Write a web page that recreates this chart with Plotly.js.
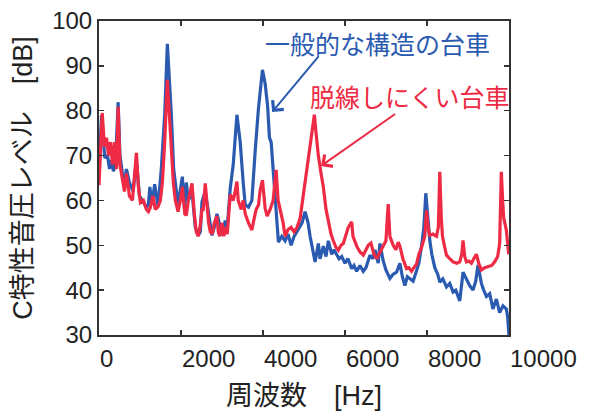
<!DOCTYPE html>
<html>
<head>
<meta charset="utf-8">
<script src="https://cdn.plot.ly/plotly-3.0.1.min.js"></script>
<style>html,body{margin:0;padding:0;background:#fff;}#chart{width:598px;height:411px;}</style>
</head>
<body>
<div id="chart"></div>
<script>
// Frequency [Hz] and C-weighted sound pressure level [dB]
const blueFreq = [0,61,141,207,256,304,353,402,467,511,572,621,669,742,832,913,986,1059,1156,1205,1241,1290,1358,1441,1521,1602,1667,1765,1821,1928,1984,2032,2088,2130,2178,2268,2349,2422,2471,2512,2592,2673,2755,2811,2877,2933,2999,3079,3120,3201,3274,3364,3444,3517,3566,3646,3729,3809,3890,3987,4053,4113,4157,4199,4255,4337,4376,4459,4539,4612,4685,4758,4863,4953,5026,5099,5148,5221,5270,5350,5391,5472,5537,5593,5676,5732,5798,5854,5919,6000,6073,6163,6219,6285,6365,6445,6511,6608,6681,6730,6810,6852,6932,6998,7095,7168,7258,7339,7399,7460,7521,7582,7662,7745,7801,7867,7923,7971,8020,8069,8117,8190,8263,8312,8385,8475,8555,8636,8702,8750,8799,8879,8962,9042,9123,9188,9244,9327,9383,9449,9529,9609,9692,9772,9853,9936,9967,9999];
const blueLevel = [66,79,69.5,70,67,69,66.5,68,81.9,70,66,64,67,64,62,69,61,60,58.5,59,63,59,63.6,58.6,67.2,79,94.9,79,67,59,63,65.3,58,64,60,62,54,52.2,53,59.7,62,57.1,52.2,54,57,55,52.2,55.5,53,62.7,68,79.1,73,64,59,58.5,60,71,80.6,89.1,86,81,74,73,66.4,56.7,50.7,52,51,52.5,50,52,53.7,55,57.5,55,52,48,46.3,50.4,47,49.8,47.5,51,48,49,48,47,47.5,46,47,44.8,45.5,44.2,45.5,44.2,45,47.8,47,49,46,50.4,46.5,44.5,42.6,43.5,44,46,43,41,43,42.5,42,44.3,46,49.8,54,61.6,55,51,48,45,43.5,41.8,42.5,40.7,41.5,39.6,40,38.5,37.6,44,42.5,41,40,42,45.6,41.5,40,38.6,39.2,35.8,38,35,36.5,35.8,34,29.9];

const redFreq = [0,78,134,183,231,280,329,377,426,467,511,572,621,669,742,815,876,913,961,1010,1083,1156,1205,1254,1314,1375,1441,1497,1546,1602,1667,1716,1765,1813,1862,1928,1984,2032,2093,2130,2178,2268,2325,2373,2422,2471,2512,2544,2592,2641,2673,2714,2763,2811,2877,2909,2945,2999,3043,3079,3128,3201,3274,3322,3364,3395,3468,3517,3566,3646,3729,3785,3834,3890,3931,3987,4028,4053,4101,4174,4247,4296,4320,4369,4418,4491,4539,4612,4685,4758,4831,4905,4965,5026,5087,5148,5197,5253,5294,5350,5416,5472,5537,5593,5659,5715,5781,5837,5902,5958,6024,6080,6163,6195,6285,6365,6445,6511,6567,6633,6706,6772,6852,6932,6998,7054,7095,7175,7241,7297,7339,7412,7502,7558,7623,7679,7745,7801,7867,7947,7988,8027,8069,8142,8232,8276,8312,8349,8378,8422,8475,8555,8636,8726,8799,8848,8879,8920,8962,9018,9083,9140,9205,9261,9327,9407,9488,9578,9651,9724,9772,9813,9845,9870,9936,9993];
const redLevel = [63.4,79.5,72,74,70,73,68,73,67,80.9,68,64,62,66,61,60,66,70.6,63,59.5,60,58,57.5,58.5,61,58,58.6,60,64,73,86.9,80,72,64,60,57.5,60,63,57,56.7,60,63.8,57,53,52,54.5,58,58,63.8,59,55,53,52.5,55,56.5,53,52,55,52,54,52.5,61.3,60,62,64.2,60,58,60,57,55,53.4,56,58,59,62.3,64.5,60,58.2,56.5,58,60,64.2,66.8,60,58,55,52,53.5,54,53,54,56,60,64.2,68,71.6,75,79.1,75,70,66,63,58,55,52.5,51,49.5,48.9,50,50.4,52.5,54,55.2,52,49.8,48.5,47.8,49,50,50.5,48,47,48.5,49.8,51,59.2,52,50,49,50.7,49.8,47,44.8,45,44.2,45,45.8,48,49.5,52,57.8,54,52.2,52.5,52,54,66.4,56,52,50,47.8,47,46.3,46,46.3,48,51.1,47.5,46.3,46.5,46,47,48,46,44.5,45,45.3,45.5,46.3,47.5,50.4,66.4,60,56.2,53.3,48];

const xTickVals = [0,2000,4000,6000,8000,10000];
const xTickText = ['0','2000','4000','6000','8000','10000'];
const yTickVals = [30,40,50,60,70,80,90,100];

const blueLabel = '一般的な構造の台車';
const redLabel = '脱線しにくい台車';
const xTitle = '周波数\u3000[Hz]';
const yTitle = 'C特性音圧レベル\u3000[dB]';

const BLUE = '#2a5bb0';
const RED = '#ee2a44';
const AXIS = '#333333';
const TXT = '#222222';
const NUMFONT = 'Liberation Sans, Arial, sans-serif';
const JPFONT = 'Liberation Sans, Noto Sans CJK JP, sans-serif';

const traces = [
  {x: blueFreq, y: blueLevel, type: 'scatter', mode: 'lines', line: {color: BLUE, width: 3.2}, hoverinfo: 'skip'},
  {x: redFreq, y: redLevel, type: 'scatter', mode: 'lines', line: {color: RED, width: 3.2}, hoverinfo: 'skip'}
];

const annotations = xTickVals.map((v, i) => ({
  x: v, xref: 'x', y: 0, yref: 'paper', text: xTickText[i], showarrow: false,
  xanchor: 'left', yanchor: 'top', yshift: -8, xshift: -1,
  font: {family: NUMFONT, size: 24, color: TXT}
}));

annotations.push(
  {x: 4004, y: 95, xref: 'x', yref: 'y', text: blueLabel, showarrow: false, xanchor: 'left', yanchor: 'middle',
   font: {family: 'Noto Sans CJK JP, sans-serif', size: 25, color: BLUE}},
  {x: 5099, y: 83.3, xref: 'x', yref: 'y', text: redLabel, showarrow: false, xanchor: 'left', yanchor: 'middle',
   font: {family: 'Noto Sans CJK JP, sans-serif', size: 25, color: RED}},
  {x: 4223, y: 79.7, xref: 'x', yref: 'y', ax: 5390, ay: 92.5, axref: 'x', ayref: 'y', text: '', showarrow: true,
   arrowhead: 4, arrowsize: 1.4, arrowwidth: 2, arrowcolor: BLUE, standoff: 0},
  {x: 5416, y: 67.7, xref: 'x', yref: 'y', ax: 7260, ay: 79.5, axref: 'x', ayref: 'y', text: '', showarrow: true,
   arrowhead: 4, arrowsize: 1.4, arrowwidth: 2, arrowcolor: RED, standoff: 0}
);

const layout = {
  width: 598, height: 411,
  margin: {l: 99, r: 89, t: 21, b: 76, pad: 0},
  paper_bgcolor: '#ffffff', plot_bgcolor: '#ffffff',
  showlegend: false,
  xaxis: {
    range: [0, 10000], tickvals: xTickVals, showticklabels: false,
    ticks: 'inside', ticklen: 5, tickwidth: 1.5, tickcolor: AXIS,
    showline: true, linecolor: AXIS, linewidth: 2, mirror: 'ticks',
    showgrid: false, zeroline: false,
    title: {text: xTitle, font: {family: JPFONT, size: 27, color: TXT}, standoff: 50}
  },
  yaxis: {
    range: [30, 100], tickvals: yTickVals,
    ticks: 'inside', ticklen: 5, tickwidth: 1.5, tickcolor: AXIS,
    showline: true, linecolor: AXIS, linewidth: 2, mirror: 'ticks',
    showgrid: false, zeroline: false,
    tickfont: {family: NUMFONT, size: 24, color: TXT},
    title: {text: yTitle, font: {family: JPFONT, size: 27, color: TXT}, standoff: 12}
  },
  annotations: annotations
};

Plotly.newPlot('chart', traces, layout, {staticPlot: true, displayModeBar: false});
</script>
</body>
</html>
